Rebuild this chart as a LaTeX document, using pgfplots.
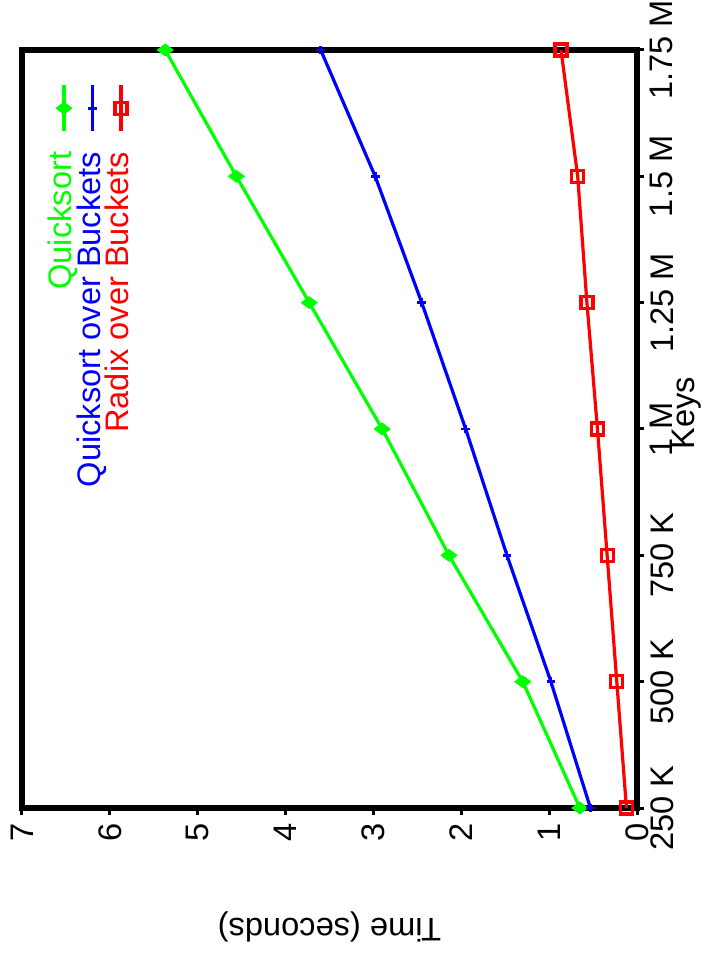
\documentclass[border=0pt]{standalone}
\usepackage{fontspec}
\setmainfont{Liberation Sans}
\usepackage{pgfplots}
\pgfplotsset{compat=1.18}

\definecolor{qsgreen}{RGB}{0,255,0}
\definecolor{qbblue}{RGB}{0,0,255}
\definecolor{rbred}{RGB}{255,0,0}

\begin{document}
\rotatebox{90}{%
\begin{tikzpicture}
\begin{axis}[
  scale only axis,
  width=379pt, height=307.5pt,
  xmin=250, xmax=1750, ymin=0, ymax=7,
  clip=false,
  font=\fontsize{16.3}{19.5}\selectfont,
  xtick={250,500,750,1000,1250,1500,1750},
  xticklabels={250 K,500 K,750 K,1 M,1.25 M,1.5 M,1.75 M},
  ytick={0,1,2,3,4,5,6,7},
  yticklabels={0,1,2,3,4,5,6,7},
  tick align=outside,
  xtick pos=bottom, ytick pos=left,
  major tick length=3.5pt,
  every tick/.style={black, line width=1.5pt},
  axis line style={line width=3.2pt},
  xticklabel style={inner sep=0pt, anchor=north, yshift=-3pt},
  yticklabel style={inner sep=0pt, anchor=east, xshift=-4pt},
  xlabel={Keys},
  ylabel={Time (seconds)},
  xlabel style={at={(axis description cs:0.521,-0.057)}, anchor=north, inner sep=0pt},
  ylabel style={at={(axis description cs:-0.137,0.5)}, anchor=south, inner sep=0pt},
  legend style={at={(rel axis cs:0.964,0.962)}, anchor=north east,
    draw=none, fill=none, legend cell align=right,
    nodes={inner sep=0pt, text height=11pt, text depth=3.25pt},
    column sep=9.5pt, row sep=0pt},
  legend plot pos=right,
  legend image code/.code={%
    \draw[mark repeat=2,mark phase=2]
      plot coordinates {(0pt,0pt) (11.5pt,0pt) (23pt,0pt)};},
]
\coordinate (origin) at (rel axis cs:0,0);

% plain quicksort over the whole key array
\addplot[qsgreen, line width=1.6pt, mark=diamond*, mark size=3pt,
  mark options={solid, fill=qsgreen}]
  coordinates {(250,0.65) (500,1.30) (750,2.14) (1000,2.90)
               (1250,3.73) (1500,4.56) (1750,5.37)};
\addlegendentry{\textcolor{qsgreen}{Quicksort}}

% quicksort applied bucket by bucket
\addplot[qbblue, line width=1.6pt, mark=+, mark size=2.2pt,
  mark options={solid, line width=1.4pt}]
  coordinates {(250,0.53) (500,0.98) (750,1.48) (1000,1.95)
               (1250,2.45) (1500,2.98) (1750,3.60)};
\addlegendentry{\textcolor{qbblue}{Quicksort over Buckets}}

% radix sort applied bucket by bucket
\addplot[rbred, line width=1.6pt, mark=square, mark size=3pt,
  mark options={solid, line width=1.6pt}]
  coordinates {(250,0.12) (500,0.23) (750,0.34) (1000,0.45)
               (1250,0.57) (1500,0.675) (1750,0.865)};
\addlegendentry{\textcolor{rbred}{Radix over Buckets}}
\end{axis}
\pgfresetboundingbox
\path[use as bounding box] (origin) ++(-85pt,-35.5pt) rectangle ++(489pt,354pt);
\end{tikzpicture}}
\end{document}
